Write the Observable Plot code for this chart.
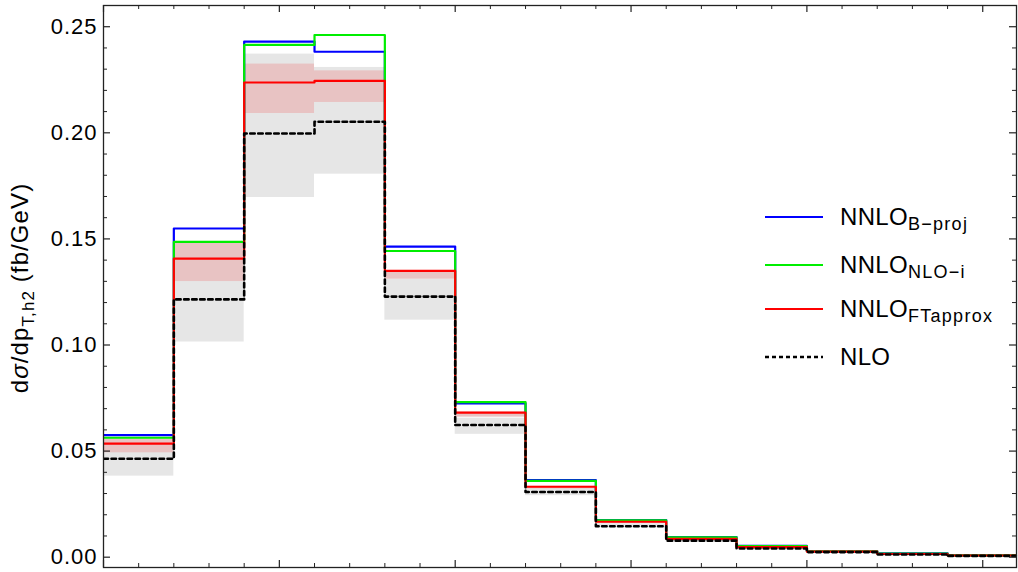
<!DOCTYPE html>
<html>
<head>
<meta charset="utf-8">
<script src="https://cdn.jsdelivr.net/npm/d3@7"></script>
<script src="https://cdn.jsdelivr.net/npm/@observablehq/plot@0.6"></script>
<style>
  html, body { margin: 0; padding: 0; background: #fff; }
  #wrap { position: relative; width: 1018px; height: 572px; font-family: "Liberation Sans", Arial, sans-serif; }
  .lg-row { position: absolute; left: 765px; height: 30px; display: flex; align-items: center; white-space: nowrap; color: #000; }
  .lg-row svg { display: block; margin-right: 17px; }
  .lg-main { font-size: 24px; letter-spacing: 0.3px; }
  .lg-sub { font-size: 18px; letter-spacing: 1.3px; position: relative; top: 7px; }
</style>
</head>
<body>
<div id="wrap"><div id="chart"></div><div id="legend"></div></div>
<script>
// ---- data ----
const binEdges = [0, 20, 40, 60, 80, 100, 120, 140, 160, 180, 200, 220, 240, 260];
const nnloBproj = [0.0575, 0.1549, 0.2430, 0.2382, 0.1464, 0.0725, 0.0363, 0.0175, 0.0095, 0.0053, 0.0029, 0.0018, 0.0010];
const nnloNLOi  = [0.0563, 0.1486, 0.2414, 0.2461, 0.1443, 0.0731, 0.0360, 0.0174, 0.0094, 0.0052, 0.0028, 0.0017, 0.0009];
const nnloFT    = [0.0535, 0.1407, 0.2237, 0.2245, 0.1349, 0.0681, 0.0332, 0.0167, 0.0086, 0.0047, 0.0026, 0.0015, 0.0008];
const nlo       = [0.0464, 0.1215, 0.1997, 0.2052, 0.1228, 0.0623, 0.0307, 0.0146, 0.0078, 0.0041, 0.0024, 0.0013, 0.0006];
const ftBandLo  = [0.0492, 0.1299, 0.2091, 0.2143, 0.1310, 0.0660, 0.0322, 0.0160, 0.0082, 0.0045, 0.0025, 0.0014, 0.0007];
const ftBandHi  = [0.0558, 0.1480, 0.2324, 0.2292, 0.1350, 0.0684, 0.0334, 0.0168, 0.0087, 0.0048, 0.0026, 0.0015, 0.0008];
const nloBandLo = [0.0382, 0.1014, 0.1695, 0.1805, 0.1117, 0.0579, 0.0290, 0.0138, 0.0072, 0.0038, 0.0022, 0.0012, 0.0005];
const nloBandHi = [0.0530, 0.1420, 0.2371, 0.2308, 0.1310, 0.0655, 0.0325, 0.0158, 0.0085, 0.0046, 0.0026, 0.0015, 0.0008];
const yMajorTicks = [0, 0.05, 0.10, 0.15, 0.20, 0.25];
const yMinorTicks = [0.01,0.02,0.03,0.04,0.06,0.07,0.08,0.09,0.11,0.12,0.13,0.14,0.16,0.17,0.18,0.19,0.21,0.22,0.23,0.24];
const xMajorTicks = [0, 50, 100, 150, 200, 250];
const xMinorTicks = [10,20,30,40,60,70,80,90,110,120,130,140,160,170,180,190,210,220,230,240];
const seriesNames = ["B\u2212proj", "NLO\u2212i", "FTapprox"];
const seriesColors = ["#0000ff", "#00ee00", "#ff0000"];

// ---- build tables ----
const bins = nnloBproj.map((_, i) => ({
  x1: binEdges[i], x2: binEdges[i + 1],
  ftLo: ftBandLo[i], ftHi: ftBandHi[i], nloLo: nloBandLo[i], nloHi: nloBandHi[i]
}));
const steps = vals => binEdges.map((e, i) => ({x: e, y: vals[Math.min(i, vals.length - 1)]}));

const W = 1018, H = 572, mL = 103, mR = 2, mT = 5, mB = 5;
const pw = W - mL - mR, ph = H - mT - mB;
const tickCol = "#222";

const chart = Plot.plot({
  width: W, height: H,
  marginLeft: mL, marginRight: mR, marginTop: mT, marginBottom: mB,
  x: {domain: [0, 259.6], axis: null},
  y: {domain: [-0.00486, 0.26]},
  style: {fontFamily: "'Liberation Sans', Arial, sans-serif", fontSize: "22px", color: "#000", background: "#fff"},
  marks: [
    Plot.rect(bins, {x1: "x1", x2: "x2", y1: "nloLo", y2: "nloHi", fill: "#e6e6e6"}),
    Plot.rect(bins, {x1: "x1", x2: "x2", y1: "ftLo", y2: "ftHi", fill: "#e8c3c3"}),
    Plot.line(steps(nnloBproj), {x: "x", y: "y", curve: "step-after", stroke: seriesColors[0], strokeWidth: 2.2, clip: true}),
    Plot.line(steps(nnloNLOi), {x: "x", y: "y", curve: "step-after", stroke: seriesColors[1], strokeWidth: 2.2, clip: true}),
    Plot.line(steps(nnloFT), {x: "x", y: "y", curve: "step-after", stroke: seriesColors[2], strokeWidth: 2.2, clip: true}),
    Plot.line(steps(nlo), {x: "x", y: "y", curve: "step-after", stroke: "#000", strokeWidth: 2.6, strokeDasharray: "4.5,3.5", clip: true}),
    Plot.frame({stroke: tickCol, strokeWidth: 1.3}),
    Plot.axisY(yMajorTicks, {tickSize: 0, tickPadding: 6, tickFormat: d3.format(".2f"), fontSize: 22, label: null}),
    // inward ticks on all four sides
    Plot.tickY(yMajorTicks, {y: d => d, insetRight: pw - 7, stroke: tickCol, strokeWidth: 1.2}),
    Plot.tickY(yMinorTicks, {y: d => d, insetRight: pw - 4, stroke: tickCol, strokeWidth: 1}),
    Plot.tickY(yMajorTicks, {y: d => d, insetLeft: pw - 7, stroke: tickCol, strokeWidth: 1.2}),
    Plot.tickY(yMinorTicks, {y: d => d, insetLeft: pw - 4, stroke: tickCol, strokeWidth: 1}),
    Plot.tickX(xMajorTicks, {x: d => d, insetTop: ph - 7, stroke: tickCol, strokeWidth: 1.2}),
    Plot.tickX(xMinorTicks, {x: d => d, insetTop: ph - 4, stroke: tickCol, strokeWidth: 1}),
    Plot.tickX(xMajorTicks, {x: d => d, insetBottom: ph - 7, stroke: tickCol, strokeWidth: 1.2}),
    Plot.tickX(xMinorTicks, {x: d => d, insetBottom: ph - 4, stroke: tickCol, strokeWidth: 1})
  ]
});
document.getElementById("chart").appendChild(chart);
d3.select(chart).selectAll("[aria-label='y-axis tick label'] text").attr("letter-spacing", "1px");

// y-axis title with subscript
const svg = d3.select(chart);
const t = svg.append("text")
  .attr("transform", "translate(28,288) rotate(-90)")
  .attr("text-anchor", "middle")
  .attr("font-size", 24)
  .attr("letter-spacing", "1.1px")
  .attr("font-family", "'Liberation Sans', Arial, sans-serif")
  .attr("fill", "#000");
t.append("tspan").text("d");
t.append("tspan").attr("font-style", "italic").text("\u03c3");
t.append("tspan").text("/dp");
t.append("tspan").attr("font-size", 17).attr("dy", 6).text("T,h2");
t.append("tspan").attr("dy", -6).text(" (fb/GeV)");

// legend
const legendRows = [
  {main: "NNLO", sub: seriesNames[0], color: seriesColors[0], dash: null, cy: 217},
  {main: "NNLO", sub: seriesNames[1], color: seriesColors[1], dash: null, cy: 265},
  {main: "NNLO", sub: seriesNames[2], color: seriesColors[2], dash: null, cy: 309},
  {main: "NLO", sub: "", color: "#000", dash: "4,3", cy: 357}
];
const lg = d3.select("#legend");
legendRows.forEach(r => {
  const row = lg.append("div").attr("class", "lg-row").style("top", (r.cy - 15) + "px");
  const s = row.append("svg").attr("width", 58).attr("height", 6);
  s.append("line").attr("x1", 0).attr("x2", 58).attr("y1", 3).attr("y2", 3)
    .attr("stroke", r.color).attr("stroke-width", r.dash ? 2.4 : 2.2).attr("stroke-dasharray", r.dash);
  row.append("span").attr("class", "lg-main").text(r.main);
  if (r.sub) row.append("span").attr("class", "lg-sub").text(r.sub);
});
</script>
</body>
</html>
